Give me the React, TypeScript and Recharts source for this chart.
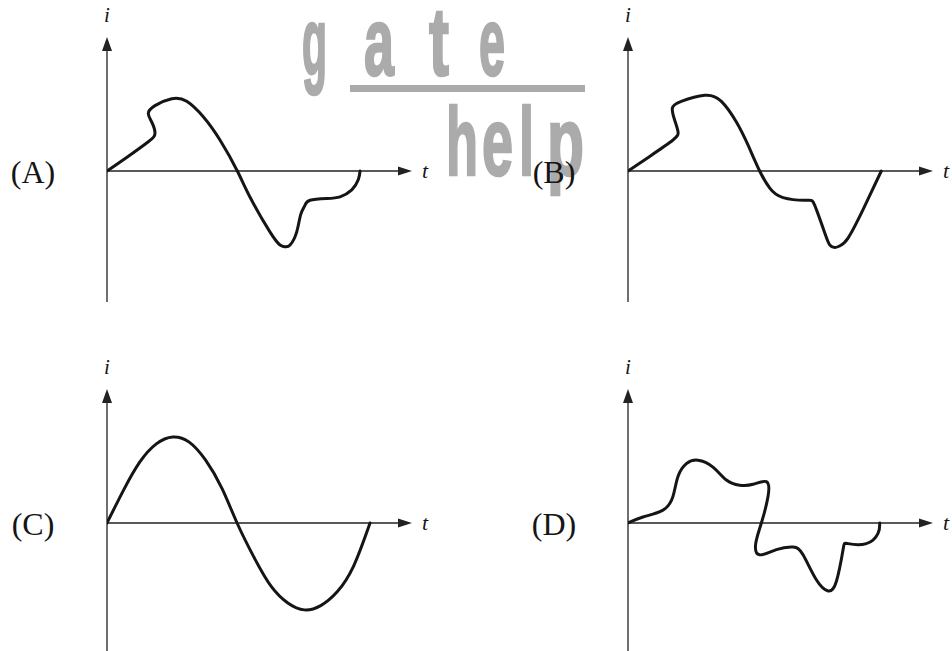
import React from 'react';
import { LineChart, Line, XAxis, YAxis, ReferenceLine } from 'recharts';

// time in ms, current in A
const tA = [0, 1.52, 3.14, 3.65, 3.40, 3.14, 3.65, 4.92, 6.06, 7.32, 8.59, 9.91, 10.93, 12.40, 13.16, 13.54, 13.92, 14.42, 14.72, 15.05, 15.44, 16.71, 17.72, 18.61, 19.11, 19.24];
const iA = [0, 0.16, 0.34, 0.44, 0.57, 0.67, 0.76, 0.84, 0.81, 0.63, 0.36, 0, -0.32, -0.71, -0.86, -0.88, -0.86, -0.71, -0.51, -0.40, -0.34, -0.32, -0.30, -0.22, -0.10, 0];

const tB = [0, 1.65, 3.42, 3.80, 3.55, 3.37, 4.05, 5.83, 7.10, 8.24, 9.13, 10.01, 10.78, 11.79, 13.56, 14.20, 14.96, 15.34, 15.72, 16.10, 16.73, 17.87, 19.26];
const iB = [0, 0.17, 0.36, 0.46, 0.59, 0.73, 0.81, 0.88, 0.81, 0.57, 0.30, 0, -0.20, -0.31, -0.34, -0.40, -0.72, -0.86, -0.89, -0.87, -0.78, -0.45, 0];

const tC = [0, 1.25, 2.5, 3.75, 5, 6.25, 7.5, 8.75, 9.89, 11.25, 12.5, 13.75, 15, 16.25, 17.5, 18.75, 20];
const iC = [0, 0.38, 0.71, 0.92, 1.0, 0.94, 0.73, 0.40, 0, -0.42, -0.74, -0.93, -1.01, -0.96, -0.80, -0.50, 0];

const tD = [0, 1.14, 2.66, 3.42, 3.80, 4.44, 5.32, 6.46, 7.48, 8.49, 9.51, 10.52, 10.65, 10.14, 9.71, 10.01, 11.28, 12.55, 13.31, 14.32, 15.21, 15.84, 16.35, 16.73, 18.12, 19.01, 19.14];
const iD = [0, 0.07, 0.15, 0.31, 0.54, 0.69, 0.73, 0.65, 0.50, 0.44, 0.45, 0.48, 0.31, 0, -0.24, -0.37, -0.31, -0.28, -0.37, -0.66, -0.79, -0.68, -0.31, -0.24, -0.24, -0.12, 0];

const panelTags = ['(A)', '(B)', '(C)', '(D)'];
const axisNames = { x: 't', y: 'i' };
const watermarkTop = ['g', 'a', 't', 'e'];
const watermarkBottom = ['h', 'e', 'l', 'p'];

const T_MAX = 23.19;
const I_MIN = -1.523;
const I_MAX = 1.558;

const INK = '#151515';
const AXIS = '#222';
const SERIF = '"Liberation Serif", "DejaVu Serif", serif';

const zip = (ts: number[], is: number[]) => ts.map((t, k) => ({ t, i: is[k] }));

const makeXShape = (tag: string) => (p: any) => {
  const { x1, y1, x2, y2 } = p;
  const len = 14;
  const half = 4.5;
  return (
    <g>
      <line x1={x1} y1={y1} x2={x2 - len + 1} y2={y2} stroke={AXIS} strokeWidth={1.3} />
      <polygon points={`${x2},${y2} ${x2 - len},${y2 - half} ${x2 - len},${y2 + half}`} fill={AXIS} />
      <text x={x2 + 10} y={y2 + 7} fontFamily={SERIF} fontStyle="italic" fontSize={22} fill={INK}>
        {axisNames.x}
      </text>
      <text x={x1 - 74} y={y1 + 12} textAnchor="middle" fontFamily={SERIF} fontSize={32} fill={INK}>
        {tag}
      </text>
    </g>
  );
};

const yShape = (p: any) => {
  const { x1, y1, x2, y2 } = p;
  const len = 14;
  const half = 5;
  return (
    <g>
      <line x1={x1} y1={y1} x2={x2} y2={y2 + len - 1} stroke={AXIS} strokeWidth={1.3} />
      <polygon points={`${x2},${y2} ${x2 - half},${y2 + len} ${x2 + half},${y2 + len}`} fill={AXIS} />
      <text x={x2} y={y2 - 15} textAnchor="middle" fontFamily={SERIF} fontStyle="italic" fontSize={21} fill={INK}>
        {axisNames.y}
      </text>
    </g>
  );
};

type PanelProps = {
  data: { t: number; i: number }[];
  tag: string;
  left: number;
  top: number;
  margin: { top: number; right: number; bottom: number; left: number };
};

const Panel = ({ data, tag, left, top, margin }: PanelProps) => (
  <div style={{ position: 'absolute', left, top }}>
    <LineChart width={476} height={330} data={data} margin={margin}>
      <XAxis type="number" dataKey="t" domain={[0, T_MAX]} allowDataOverflow hide />
      <YAxis type="number" domain={[I_MIN, I_MAX]} allowDataOverflow hide />
      <ReferenceLine
        segment={[{ x: 0, y: I_MIN }, { x: 0, y: I_MAX }]}
        ifOverflow="visible"
        shape={yShape}
      />
      <ReferenceLine
        segment={[{ x: 0, y: 0 }, { x: T_MAX, y: 0 }]}
        ifOverflow="visible"
        shape={makeXShape(tag)}
      />
      <Line
        dataKey="i"
        type="natural"
        stroke={INK}
        strokeWidth={3}
        dot={false}
        isAnimationActive={false}
        strokeLinejoin="round"
        strokeLinecap="round"
      />
    </LineChart>
  </div>
);

const topX = [302, 364, 429, 479];
const topW = [25, 30, 20, 26];
const bottomX = [446, 482, 519, 547];
const bottomW = [32, 31, 15, 37];

const Watermark = () => (
  <svg width={952} height={651} style={{ position: 'absolute', left: 0, top: 0 }}>
    <g fill="#ababab" stroke="#ababab" strokeWidth={2.5} fontFamily='"Liberation Sans", "DejaVu Sans", sans-serif' fontWeight="bold" fontSize={96}>
      {watermarkTop.map((c, k) => (
        <text key={'a' + k} x={topX[k]} y={75} textLength={topW[k]} lengthAdjust="spacingAndGlyphs">{c}</text>
      ))}
      {watermarkBottom.map((c, k) => (
        <text key={'b' + k} x={bottomX[k]} y={175} textLength={bottomW[k]} lengthAdjust="spacingAndGlyphs">{c}</text>
      ))}
      <rect x={350} y={85} width={235} height={7} stroke="none" />
    </g>
  </svg>
);

export default function App() {
  return (
    <div style={{ position: 'absolute', left: 0, top: 0, width: 952, height: 651, overflow: 'hidden', background: '#fff' }}>
      <Watermark />
      <Panel data={zip(tA, iA)} tag={panelTags[0]} left={0} top={0} margin={{ top: 37, right: 64, bottom: 28, left: 107 }} />
      <Panel data={zip(tB, iB)} tag={panelTags[1]} left={476} top={0} margin={{ top: 37, right: 19, bottom: 28, left: 152 }} />
      <Panel data={zip(tC, iC)} tag={panelTags[2]} left={0} top={326} margin={{ top: 63, right: 64, bottom: 2, left: 107 }} />
      <Panel data={zip(tD, iD)} tag={panelTags[3]} left={476} top={326} margin={{ top: 63, right: 19, bottom: 2, left: 152 }} />
    </div>
  );
}
